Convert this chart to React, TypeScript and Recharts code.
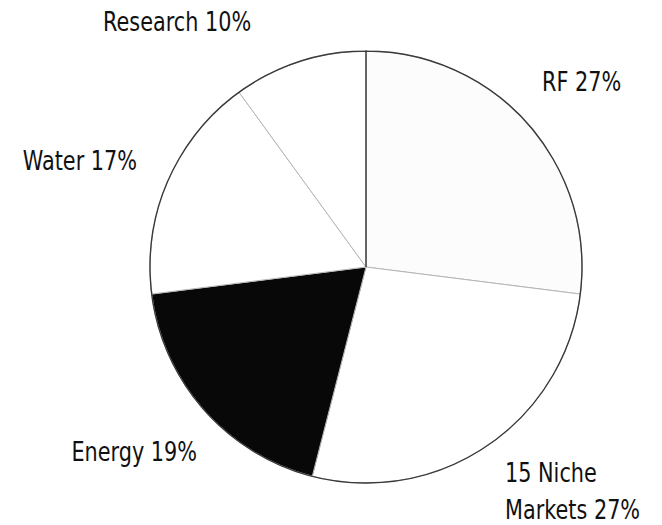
import { useEffect } from 'react'
import { PieChart, Pie, Cell } from 'recharts'

const SEGMENTS = ['RF', '15 Niche Markets', 'Energy', 'Water', 'Research']
const SHARES = [27, 27, 19, 17, 10]
const LABEL_LINES = [['RF 27%'], ['15 Niche', 'Markets 27%'], ['Energy 19%'], ['Water 17%'], ['Research 10%']]

const data = SEGMENTS.map((name, i) => ({ name, value: SHARES[i], lines: LABEL_LINES[i] }))

const FILLS: Record<string, string> = {
  RF: '#fcfcfc',
  '15 Niche Markets': '#ffffff',
  Energy: '#080808',
  Water: '#ffffff',
  Research: '#ffffff',
}

// where each caption sits, relative to the pie centre
const LABEL_OFFSETS: Record<string, { dx: number; dy: number; anchor: 'start' | 'middle' | 'end' }> = {
  RF: { dx: 176, dy: -185, anchor: 'start' },
  '15 Niche Markets': { dx: 139, dy: 206, anchor: 'start' },
  Energy: { dx: -169, dy: 185, anchor: 'end' },
  Water: { dx: -229, dy: -106, anchor: 'end' },
  Research: { dx: -263, dy: -245, anchor: 'start' },
}

const FONT = '"DejaVu Sans", sans-serif'

function SliceLabel(props: any) {
  const { cx, cy, payload } = props
  const off = LABEL_OFFSETS[payload.name]
  const lines: string[] = payload.lines
  const x = cx + off.dx
  const y = cy + off.dy
  // squeeze horizontally to get a condensed face
  return (
    <g transform={`translate(${x} ${y}) scale(0.8 1)`}>
      <text
        x={0}
        y={0}
        textAnchor={off.anchor}
        dominantBaseline="central"
        fontFamily={FONT}
        fontSize={26}
        fill="#111"
      >
        {lines.map((l, i) => (
          <tspan key={i} x={0} dy={i === 0 ? 0 : 37}>
            {l}
          </tspan>
        ))}
      </text>
    </g>
  )
}

export default function App() {
  useEffect(() => {
    document.body.style.margin = '0'
  }, [])

  return (
    <div style={{ width: 662, height: 525, background: '#fff' }}>
      <PieChart width={662} height={525} margin={{ top: 0, right: 0, bottom: 0, left: 0 }}>
        <Pie
          data={data}
          dataKey="value"
          nameKey="name"
          cx={366}
          cy={267}
          outerRadius={216}
          startAngle={90}
          endAngle={-270}
          stroke="#b5b5b5"
          strokeWidth={1}
          label={SliceLabel}
          labelLine={false}
          isAnimationActive={false}
        >
          {data.map((d) => (
            <Cell key={d.name} fill={FILLS[d.name]} />
          ))}
        </Pie>
        {/* outer rim */}
        <Pie
          data={[{ name: 'rim', value: 1 }]}
          dataKey="value"
          cx={366}
          cy={267}
          outerRadius={216}
          startAngle={90}
          endAngle={-270}
          fill="none"
          stroke="#3a3a3a"
          strokeWidth={1.4}
          isAnimationActive={false}
        />
      </PieChart>
    </div>
  )
}
